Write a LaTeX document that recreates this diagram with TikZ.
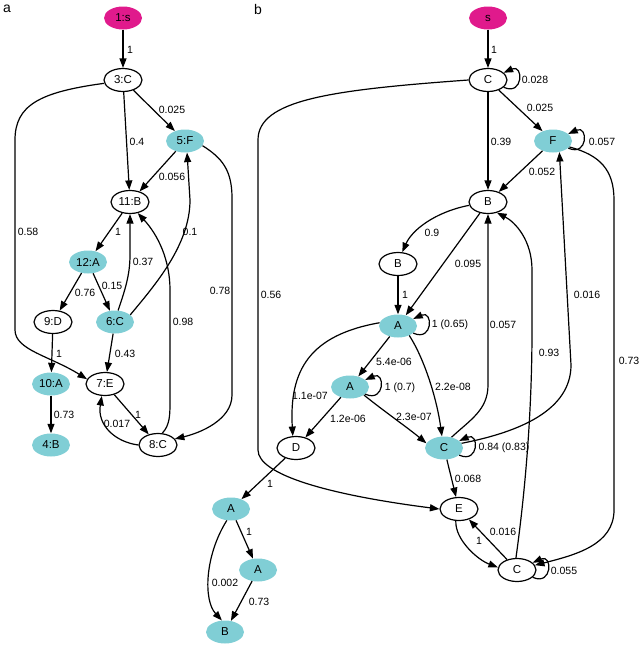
\documentclass[tikz,border=0pt]{standalone}
\usepackage{fontspec}
\setmainfont{Liberation Sans}
\usetikzlibrary{arrows.meta, shapes.geometric}

\definecolor{seedPink}{RGB}{224,26,140}
\definecolor{hitCyan}{RGB}{128,206,213}

\tikzset{
	node base/.style={ellipse, inner sep=0pt, minimum width=38pt, minimum height=23pt,
		font=\fontsize{11.5}{13}\selectfont},
	plain/.style={node base, draw, line width=1.2pt, fill=white},
	seed/.style={node base, fill=seedPink},
	hit/.style={node base, fill=hitCyan},
	trans/.style={line width=1.2pt, -{Triangle[length=9.5pt, width=7pt]}},
	edgeText/.style={font=\fontsize{10.5}{12}\selectfont, inner sep=0pt},
	panel/.style={font=\fontsize{14}{16}\selectfont, inner sep=0pt}
}

\newcommand{\vertex}[5][plain]{
	\node[#1] (#4) at (#2, #3) {#5};
}
\newcommand{\edge}[5][]{
	\draw[trans, #1] (#2) -- (#3) node[edgeText] at (#4) {#5};
}
\newcommand{\selfLoop}[3]{
	\draw[trans] (#1.-25) .. controls +(20,9) and +(20,-9) .. (#1.25)
		node[edgeText] at (#2) {#3};
}

\begin{document}
\begin{tikzpicture}[x=1pt, y=-1pt]
	\useasboundingbox (0,0) rectangle (642,648);

	\node[panel] (panelA) at (7,9) {a};
	\node[panel] (panelB) at (258,9) {b};

	% a
	\vertex[seed]{123}{18}{n1}{1:s};
	\vertex{123}{80}{n3}{3:C};
	\vertex[hit]{185}{141}{n5}{5:F};
	\vertex{130}{202}{n11}{11:B};
	\vertex[hit]{88}{262}{n12}{12:A};
	\vertex{53}{322}{n9}{9:D};
	\vertex[hit]{115}{322}{n6}{6:C};
	\vertex[hit]{51}{384}{n10}{10:A};
	\vertex{105}{384}{n7}{7:E};
	\vertex[hit]{51}{445}{n4}{4:B};
	\vertex{158}{445}{n8}{8:C};

	\edge{n1}{n3}{130,50}{1};
	\edge{n3}{n5}{172,110}{0.025};
	\edge{n3}{n11}{137,142}{0.4};
	\edge{n5}{n11}{172,177}{0.056};
	\edge{n11}{n12}{118,232}{1};
	\edge{n12}{n9}{85,293}{0.76};
	\edge{n12}{n6}{112,286}{0.15};
	\edge{n6}{n7}{125,354}{0.43};
	\edge{n9}{n10}{59,354}{1};
	\edge{n10}{n4}{64,415}{0.73};
	\edge{n7}{n8}{138,415}{1};

	\draw[trans] (n3.190) .. controls (40,92) and (15,105) .. (15,140) -- (15,330)
		.. controls (15,350) and (50,356) .. (n7.165) node[edgeText] at (28,232) {0.58};
	\draw[trans] (n5.-15) .. controls (222,158) and (232,170) .. (232,198) -- (232,395)
		.. controls (232,420) and (200,433) .. (n8.20) node[edgeText] at (220,291) {0.78};
	\draw[trans] (n6.75) .. controls (125,290) and (130,275) .. (130,255) -- (n11.south)
		node[edgeText] at (143,262) {0.37};
	\draw[trans] (n6.25) .. controls (155,285) and (190,245) .. (190,200) -- (n5.-80)
		node[edgeText] at (190,232) {0.1};
	\draw[trans] (n8.70) .. controls (170,425) and (170,415) .. (170,400) -- (170,290)
		.. controls (170,260) and (158,235) .. (n11.-55) node[edgeText] at (183,322) {0.98};
	\draw[trans] (n8.west) .. controls (115,442) and (97,425) .. (n7.-105)
		node[edgeText] at (117,424) {0.017};

	% b
	\vertex[seed]{488}{18}{s0}{s};
	\vertex{488}{80}{c1}{C};
	\vertex[hit]{553}{141}{f1}{F};
	\vertex{488}{202}{b1}{B};
	\vertex{398}{264}{b2}{B};
	\vertex[hit]{398}{326}{a1}{A};
	\vertex[hit]{350}{387}{a2}{A};
	\vertex{296}{448}{d1}{D};
	\vertex[hit]{444}{448}{c2}{C};
	\vertex{459}{509}{e1}{E};
	\vertex{517}{570}{c3}{C};
	\vertex[hit]{231}{509}{a3}{A};
	\vertex[hit]{258}{570}{a4}{A};
	\vertex[hit]{225}{632}{b3}{B};

	\edge{s0}{c1}{494,50}{1};
	\edge{c1}{f1}{540,108}{0.025};
	\edge{c1}{b1}{501,142}{0.39};
	\edge{f1}{b1}{542,172}{0.052};
	\edge{b1}{a1}{468,264}{0.095};
	\edge{b2}{a1}{405,295}{1};
	\edge{a1}{a2}{394,362}{5.4e-06};
	\edge{a2}{d1}{348,419}{1.2e-06};
	\edge{c2}{e1}{468,479}{0.068};
	\edge{c3}{e1}{503,532}{0.016};
	\edge{d1}{a3}{270,484}{1};
	\edge{a3}{a4}{249,532}{1};
	\edge{a4}{b3}{259,602}{0.73};

	\selfLoop{c1}{535,80}{0.028};
	\selfLoop{f1}{602,142}{0.057};
	\selfLoop{a1}{450,325}{1 (0.65)};
	\selfLoop{a2}{400,388}{1 (0.7)};
	\selfLoop{c2}{504,448}{0.84 (0.83)};
	\selfLoop{c3}{564,571}{0.055};

	\draw[trans] (c1.west) .. controls (330,90) and (258,100) .. (258,140) -- (258,450)
		.. controls (258,475) and (330,495) .. (e1.west) node[edgeText] at (271,295) {0.56};
	\draw[trans] (f1.-20) .. controls (600,155) and (614,170) .. (614,200) -- (614,510)
		.. controls (614,545) and (575,555) .. (c3.15) node[edgeText] at (629,361) {0.73};
	\draw[trans] (c2.55) .. controls (470,420) and (488,410) .. (488,385) -- (b1.south)
		node[edgeText] at (503,325) {0.057};
	\draw[trans] (c2.15) .. controls (520,432) and (571,410) .. (571,365) -- (f1.-60)
		node[edgeText] at (587,295) {0.016};
	\draw[trans] (c3.95) .. controls (524,500) and (532,420) .. (532,330) -- (532,270)
		.. controls (532,240) and (515,222) .. (b1.-50) node[edgeText] at (549,353) {0.93};
	\draw[trans] (b1.190) .. controls (435,212) and (412,230) .. (b2.70)
		node[edgeText] at (432,233) {0.9};
	\draw[trans] (a1.170) .. controls (310,335) and (289,370) .. (d1.105)
		node[edgeText] at (310,396) {1.1e-07};
	\draw[trans] (a1.-40) .. controls (425,360) and (437,400) .. (c2.100)
		node[edgeText] at (453,387) {2.2e-08};
	\draw[trans] (a2.-30) .. controls (385,412) and (408,428) .. (c2.165)
		node[edgeText] at (414,417) {2.3e-07};
	\draw[trans] (e1.-105) .. controls (455,540) and (478,560) .. (c3.172)
		node[edgeText] at (479,541) {1};
	\draw[trans] (a3.-110) .. controls (205,555) and (203,600) .. (b3.105)
		node[edgeText] at (225,583) {0.002};
\end{tikzpicture}
\end{document}
